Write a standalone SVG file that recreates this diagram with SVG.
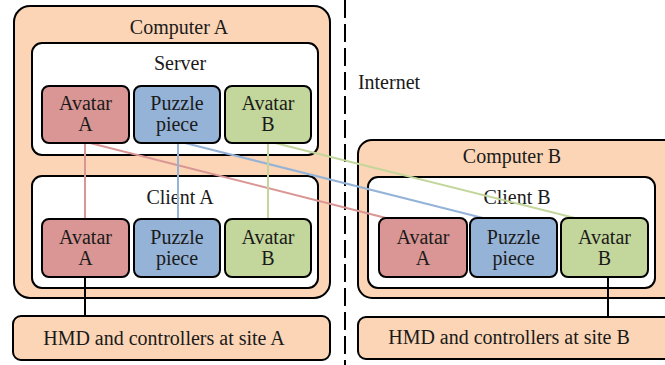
<svg xmlns="http://www.w3.org/2000/svg" width="665" height="365" viewBox="0 0 665 365">
<style>
text{font-family:"Liberation Serif","Times New Roman",serif;fill:#1a1a1a;text-anchor:middle;font-size:20px}
.comp{fill:#FBD5B5;stroke:#000;stroke-width:2}
.box{fill:#fff;stroke:#000;stroke-width:2}
.red{fill:#D99694;stroke:#000;stroke-width:2}
.blue{fill:#95B3D7;stroke:#000;stroke-width:2}
.green{fill:#C3D69B;stroke:#000;stroke-width:2}
.lr{stroke:#D99694;stroke-width:2;fill:none}
.lb{stroke:#95B3D7;stroke-width:2;fill:none}
.lg{stroke:#C3D69B;stroke-width:2;fill:none}
.lk{stroke:#000;stroke-width:2;fill:none}
</style>
<line x1="345" y1="0" x2="345" y2="365" stroke="#000" stroke-width="2" stroke-dasharray="18,6"/>
<text x="389" y="89">Internet</text>
<g id="computerA">
<rect x="14" y="6" width="316" height="292" rx="16" class="comp"/>
<text x="179" y="34">Computer A</text>
</g>
<g id="server">
<rect x="32" y="43" width="286" height="112" rx="10" class="box"/>
<text x="180" y="70">Server</text>
</g>
<g id="clientA">
<rect x="32" y="176" width="286" height="112" rx="10" class="box"/>
<text x="180" y="204">Client A</text>
</g>
<g id="computerB">
<rect x="358" y="140" width="330" height="158" rx="14" class="comp"/>
<text x="512" y="163">Computer B</text>
</g>
<g id="clientB">
<rect x="368" y="177" width="287" height="111" rx="10" class="box"/>
<text x="517" y="204">Client B</text>
</g>
<g id="connectors">
<line x1="85" y1="143" x2="85" y2="219" class="lr"/>
<line x1="90" y1="143" x2="386" y2="218" class="lr"/>
<line x1="178" y1="143" x2="178" y2="219" class="lb"/>
<line x1="185" y1="143" x2="483" y2="218" class="lb"/>
<line x1="268" y1="143" x2="268" y2="219" class="lg"/>
<line x1="275" y1="143" x2="575" y2="218" class="lg"/>
<line x1="85" y1="277" x2="85" y2="316" class="lk"/>
<line x1="608" y1="277" x2="608" y2="317" class="lk"/>
</g>
<g id="srvAvatarA"><rect x="42" y="86" width="87" height="57" rx="7" class="red"/><text x="85.5" y="110">Avatar</text><text x="85.5" y="131">A</text></g>
<g id="srvPuzzle"><rect x="134" y="86" width="86" height="57" rx="7" class="blue"/><text x="177" y="110">Puzzle</text><text x="177" y="131">piece</text></g>
<g id="srvAvatarB"><rect x="225" y="86" width="86" height="57" rx="7" class="green"/><text x="268" y="110">Avatar</text><text x="268" y="131">B</text></g>
<g id="cliAAvatarA"><rect x="42" y="219" width="87" height="58" rx="7" class="red"/><text x="85.5" y="244">Avatar</text><text x="85.5" y="265">A</text></g>
<g id="cliAPuzzle"><rect x="134" y="219" width="86" height="58" rx="7" class="blue"/><text x="177" y="244">Puzzle</text><text x="177" y="265">piece</text></g>
<g id="cliAAvatarB"><rect x="225" y="219" width="86" height="58" rx="7" class="green"/><text x="268" y="244">Avatar</text><text x="268" y="265">B</text></g>
<g id="cliBAvatarA"><rect x="379" y="218" width="88" height="59" rx="7" class="red"/><text x="423" y="244">Avatar</text><text x="423" y="265">A</text></g>
<g id="cliBPuzzle"><rect x="470" y="218" width="87" height="59" rx="7" class="blue"/><text x="513.5" y="244">Puzzle</text><text x="513.5" y="265">piece</text></g>
<g id="cliBAvatarB"><rect x="561" y="218" width="87" height="59" rx="7" class="green"/><text x="604.5" y="244">Avatar</text><text x="604.5" y="265">B</text></g>
<g id="hmdA"><rect x="13" y="316" width="317" height="44" rx="8" class="comp"/><text x="164" y="345">HMD and controllers at site A</text></g>
<g id="hmdB"><rect x="358" y="317" width="330" height="42" rx="8" class="comp"/><text x="509" y="344">HMD and controllers at site B</text></g>
</svg>
